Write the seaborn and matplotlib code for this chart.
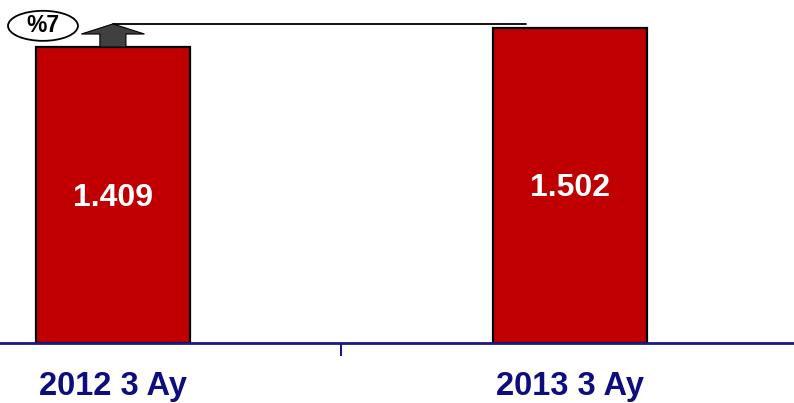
import pandas as pd
import seaborn as sns
import matplotlib.pyplot as plt
from matplotlib.patches import Ellipse, FancyArrow

periods = ['2012 3 Ay', '2013 3 Ay']
values = [1409, 1502]
value_labels = ['1.409', '1.502']
change_label = '%7'

df = pd.DataFrame({'period': periods, 'value': values})

sns.set_theme(style="white")
plt.rcParams['font.family'] = ['Liberation Sans', 'DejaVu Sans']

fig = plt.figure(figsize=(7.94, 4.03), dpi=100)
ax = fig.add_axes([0, 0.149, 1, 0.851])

sns.barplot(data=df, x='period', y='value', color='#C00000', saturation=1,
            width=0.337, edgecolor='black', linewidth=1.6, ax=ax)

ax.set_xlim(-0.247, 1.49)
ax.set_ylim(0, 1633)

# value labels inside bars
for i, (v, lab) in enumerate(zip(values, value_labels)):
    ax.text(i, v * 0.49, lab, ha='center', va='center', color='white',
            fontsize=23, fontweight='bold')

# growth arrow on the first bar + reference line from second bar
top = values[1] + 17
ax.add_patch(FancyArrow(0, values[0], 0, top - values[0], width=0.057,
                        head_width=0.138, head_length=48,
                        length_includes_head=True, facecolor='#404040',
                        edgecolor='black', linewidth=0.8, zorder=4))
ax.plot([0, 1 - 0.096], [top, top], color='black', lw=1.3, zorder=3)

ax.add_patch(Ellipse((-0.153, 1510), 0.153, 143, facecolor='white',
                     edgecolor='black', linewidth=1.3, zorder=5,
                     clip_on=False))
ax.text(-0.153, 1510, change_label, ha='center', va='center', fontsize=16.5,
        fontweight='bold', color='black', zorder=6)

# axes styling
for s in ['left', 'top', 'right']:
    ax.spines[s].set_visible(False)
ax.spines['bottom'].set_color('#1a1a80')
ax.spines['bottom'].set_linewidth(2)
ax.set_yticks([])
ax.set_xlabel('')
ax.set_ylabel('')
ax.set_xticks([0, 1])
ax.set_xticklabels(periods, fontsize=23.5, fontweight='bold', color='#0d0d80')
ax.tick_params(axis='x', which='major', length=0, pad=20)
ax.set_xticks([0.5], minor=True)
ax.tick_params(axis='x', which='minor', length=9, width=1.5, color='#1a1a80',
               direction='out', bottom=True)

fig.savefig('out.png', dpi=100)
